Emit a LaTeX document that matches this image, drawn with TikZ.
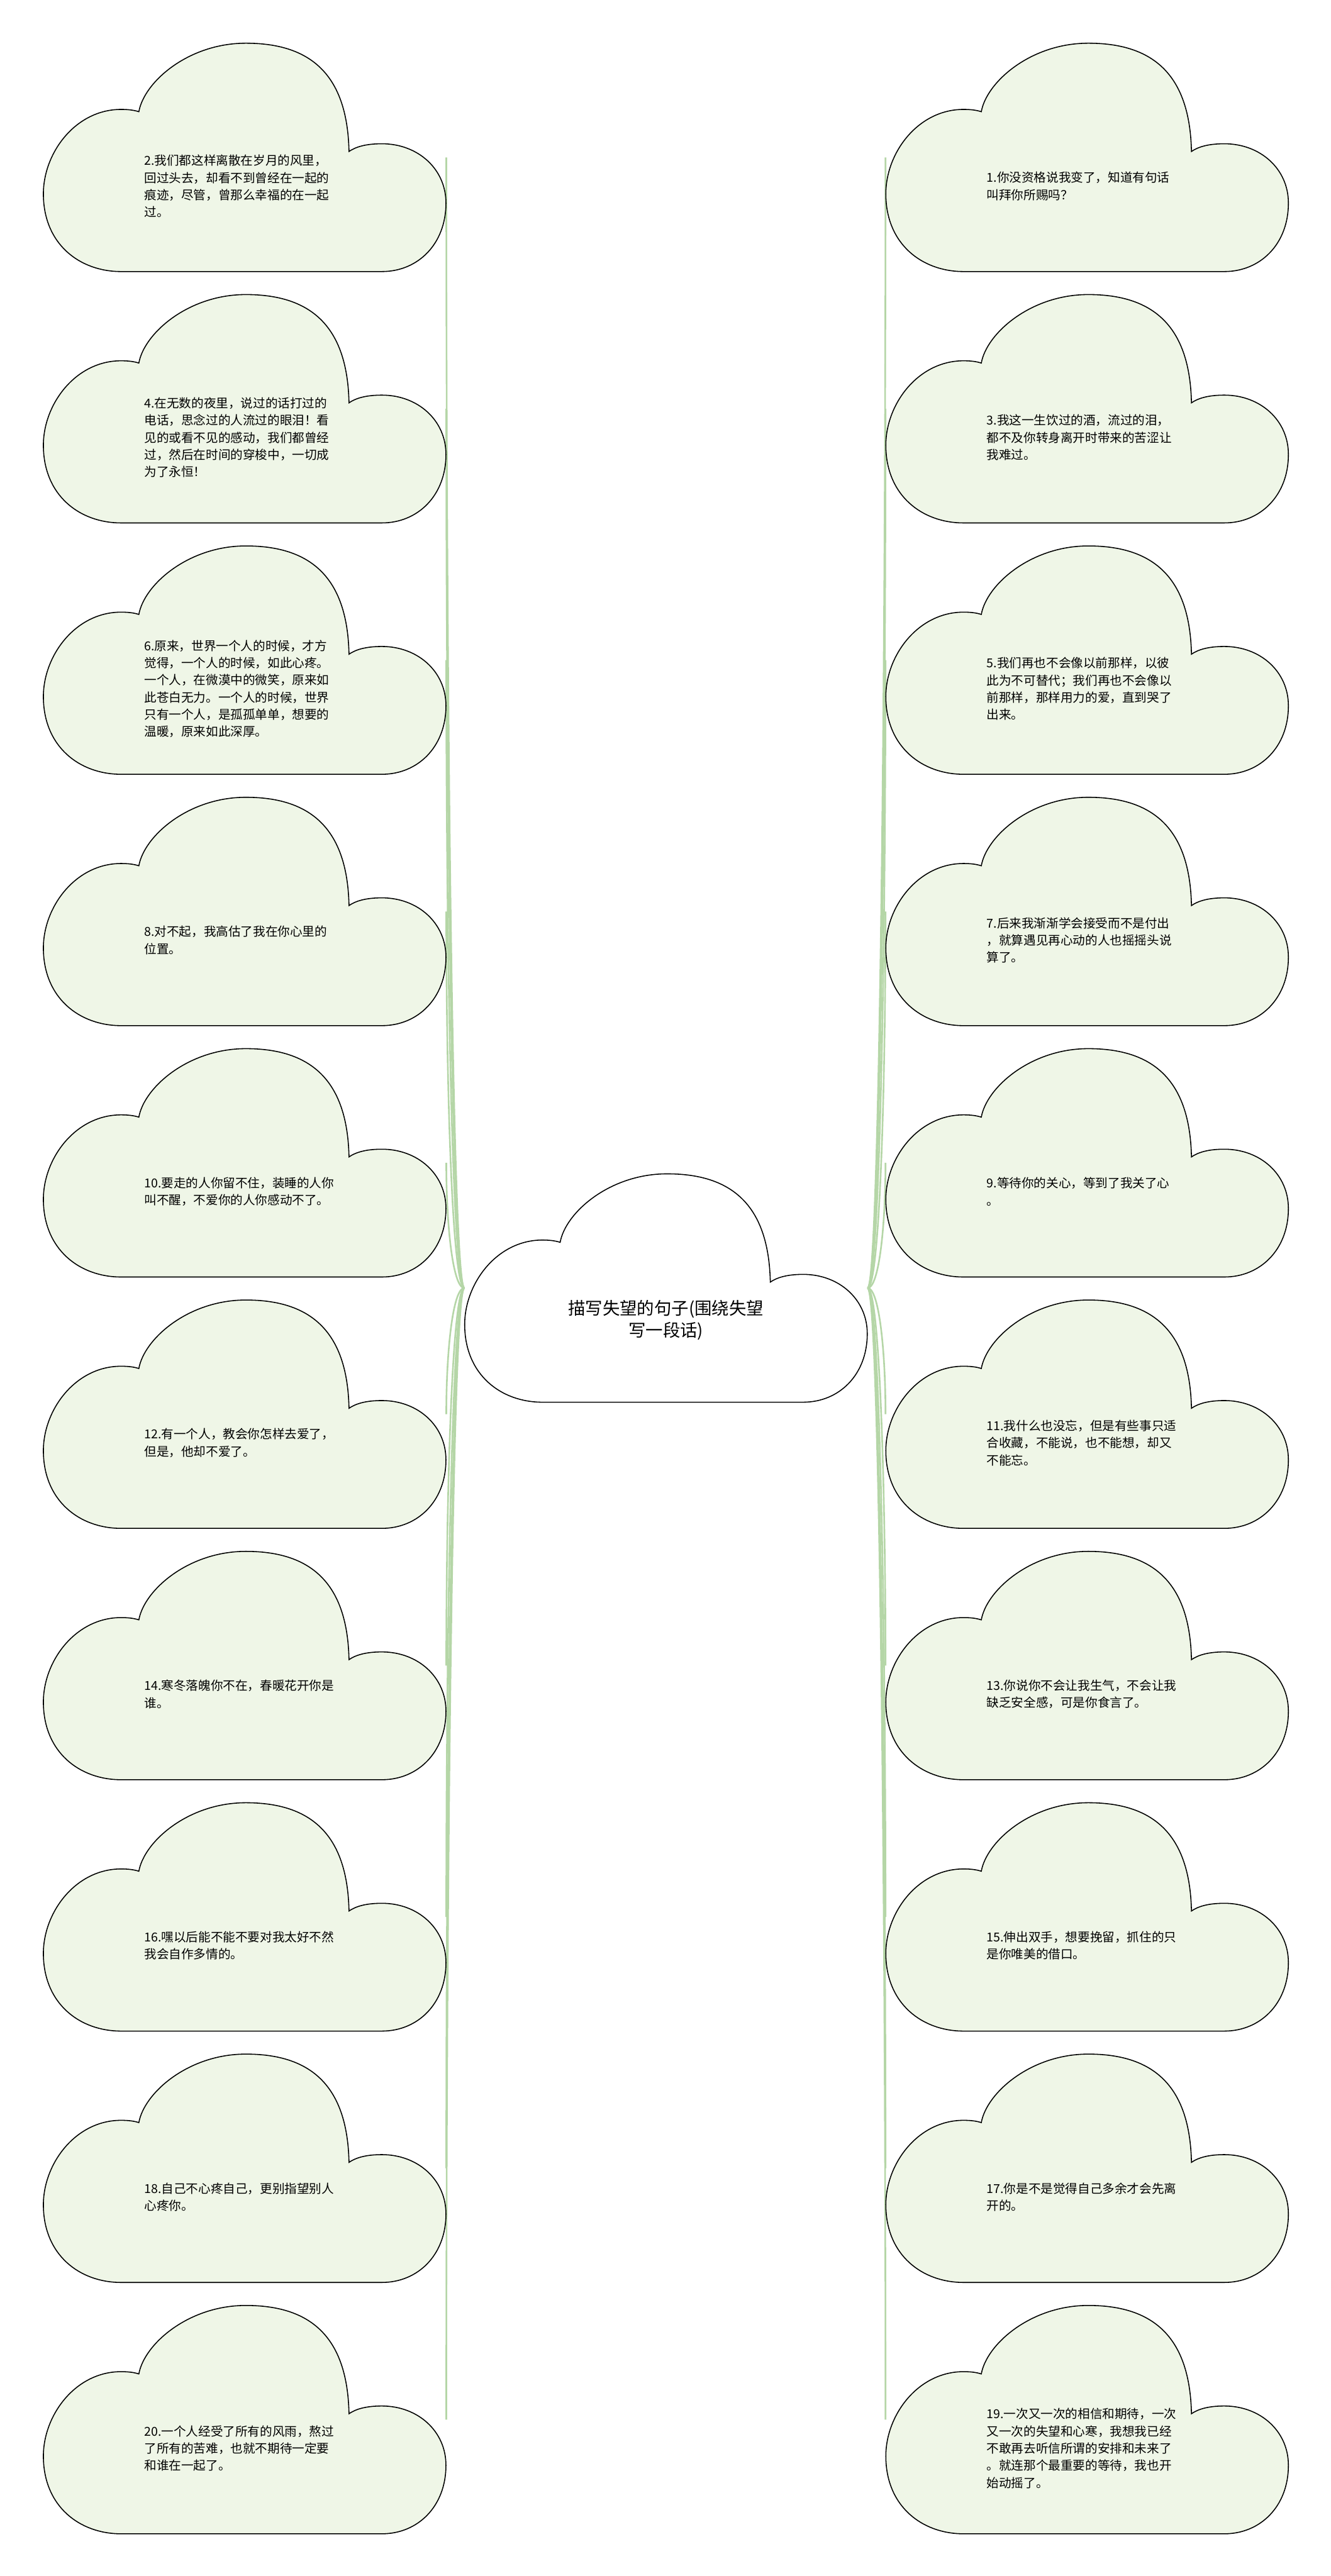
\documentclass[tikz,border=0pt]{standalone}
\usepackage{fontspec}
\setmainfont{Noto Sans CJK SC}
\usetikzlibrary{calc}

\definecolor{leafgreen}{RGB}{239,246,231}
\definecolor{linkgreen}{RGB}{181,214,167}

\pgfdeclarelayer{background}
\pgfsetlayers{background,main}

\tikzset{
  cloudline/.style={draw=black,line width=0.6pt},
  pics/cloudshape/.style={code={
    \filldraw[cloudline,fill=#1] (47.3,139) -- (206.0,139)
      .. controls (227.9,139) and (245,122.3) .. (245,97.3)
      .. controls (245,76.5) and (227.9,61.2) .. (206.0,61.2)
      .. controls (196.0,61.2) and (189.9,63.2) .. (186.0,65.9)
      .. controls (185.0,18.1) and (161.7,0) .. (123.2,0)
      .. controls (88.2,0) and (61.3,23.6) .. (58.1,41.7)
      .. controls (55.1,40.7) and (51.5,40.3) .. (47.3,40.3)
      .. controls (19.6,40.3) and (0,66.7) .. (0,91.7)
      .. controls (0,122.3) and (22.1,139) .. (47.3,139) -- cycle;
  }},
  cloudbox/.style={minimum width=245pt,minimum height=139pt,inner sep=0pt},
  leaftext/.style={anchor=west,align=left,inner sep=0pt,font=\fontsize{7.5}{10.45}\selectfont},
  roottext/.style={align=center,inner sep=0pt,font=\fontsize{10.5}{13.3}\selectfont},
  link/.style={draw=linkgreen,line width=1pt},
}

% one green cloud: name, left x, top y, text
\newcommand{\leafcloud}[4]{%
  \pic at (#2,#3) {cloudshape=leafgreen};
  \node[cloudbox] (#1) at (#2+122.5,#3+69.5) {};
  \node[leaftext] (#1txt) at (#2+61.25,#3+87) {#4};
}

\begin{document}
\begin{tikzpicture}[x=1pt,y=-1pt]
\useasboundingbox (0,0) rectangle (810,1568);

% centre
\pic at (282.8,714.5) {cloudshape=white};
\node[cloudbox] (root) at (405.3,784) {};
\node[roottext] (roottxt) at (405.3,803.5) {描写失望的句子(围绕失望\\写一段话)};

% left column
\leafcloud{n2}{26.4}{26.3}{2.我们都这样离散在岁月的风里，\\回过头去，却看不到曾经在一起的\\痕迹，尽管，曾那么幸福的在一起\\过。}
\leafcloud{n4}{26.4}{179.3}{4.在无数的夜里，说过的话打过的\\电话，思念过的人流过的眼泪！看\\见的或看不见的感动，我们都曾经\\过，然后在时间的穿梭中，一切成\\为了永恒！}
\leafcloud{n6}{26.4}{332.3}{6.原来，世界一个人的时候，才方\\觉得，一个人的时候，如此心疼。\\一个人，在微漠中的微笑，原来如\\此苍白无力。一个人的时候，世界\\只有一个人，是孤孤单单，想要的\\温暖，原来如此深厚。}
\leafcloud{n8}{26.4}{485.3}{8.对不起，我高估了我在你心里的\\位置。}
\leafcloud{n10}{26.4}{638.3}{10.要走的人你留不住，装睡的人你\\叫不醒，不爱你的人你感动不了。}
\leafcloud{n12}{26.4}{791.3}{12.有一个人，教会你怎样去爱了，\\但是，他却不爱了。}
\leafcloud{n14}{26.4}{944.3}{14.寒冬落魄你不在，春暖花开你是\\谁。}
\leafcloud{n16}{26.4}{1097.3}{16.嘿以后能不能不要对我太好不然\\我会自作多情的。}
\leafcloud{n18}{26.4}{1250.3}{18.自己不心疼自己，更别指望别人\\心疼你。}
\leafcloud{n20}{26.4}{1403.3}{20.一个人经受了所有的风雨，熬过\\了所有的苦难，也就不期待一定要\\和谁在一起了。}

% right column
\leafcloud{n1}{539.1}{26.3}{1.你没资格说我变了，知道有句话\\叫拜你所赐吗？}
\leafcloud{n3}{539.1}{179.3}{3.我这一生饮过的酒，流过的泪，\\都不及你转身离开时带来的苦涩让\\我难过。}
\leafcloud{n5}{539.1}{332.3}{5.我们再也不会像以前那样，以彼\\此为不可替代；我们再也不会像以\\前那样，那样用力的爱，直到哭了\\出来。}
\leafcloud{n7}{539.1}{485.3}{7.后来我渐渐学会接受而不是付出\\，就算遇见再心动的人也摇摇头说\\算了。}
\leafcloud{n9}{539.1}{638.3}{9.等待你的关心，等到了我关了心\\。}
\leafcloud{n11}{539.1}{791.3}{11.我什么也没忘，但是有些事只适\\合收藏，不能说，也不能想，却又\\不能忘。}
\leafcloud{n13}{539.1}{944.3}{13.你说你不会让我生气，不会让我\\缺乏安全感，可是你食言了。}
\leafcloud{n15}{539.1}{1097.3}{15.伸出双手，想要挽留，抓住的只\\是你唯美的借口。}
\leafcloud{n17}{539.1}{1250.3}{17.你是不是觉得自己多余才会先离\\开的。}
\leafcloud{n19}{539.1}{1403.3}{19.一次又一次的相信和期待，一次\\又一次的失望和心寒，我想我已经\\不敢再去听信所谓的安排和未来了\\。就连那个最重要的等待，我也开\\始动摇了。}

% links
\begin{pgfonlayer}{background}
\draw[link] (root.west) .. controls +(-7,0) and ($(n2.east)!0.5!(n2.east|-root.west)$) .. (n2.east);
\draw[link] (root.west) .. controls +(-7,0) and ($(n4.east)!0.5!(n4.east|-root.west)$) .. (n4.east);
\draw[link] (root.west) .. controls +(-7,0) and ($(n6.east)!0.5!(n6.east|-root.west)$) .. (n6.east);
\draw[link] (root.west) .. controls +(-7,0) and ($(n8.east)!0.5!(n8.east|-root.west)$) .. (n8.east);
\draw[link] (root.west) .. controls +(-7,0) and ($(n10.east)!0.5!(n10.east|-root.west)$) .. (n10.east);
\draw[link] (root.west) .. controls +(-7,0) and ($(n12.east)!0.5!(n12.east|-root.west)$) .. (n12.east);
\draw[link] (root.west) .. controls +(-7,0) and ($(n14.east)!0.5!(n14.east|-root.west)$) .. (n14.east);
\draw[link] (root.west) .. controls +(-7,0) and ($(n16.east)!0.5!(n16.east|-root.west)$) .. (n16.east);
\draw[link] (root.west) .. controls +(-7,0) and ($(n18.east)!0.5!(n18.east|-root.west)$) .. (n18.east);
\draw[link] (root.west) .. controls +(-7,0) and ($(n20.east)!0.5!(n20.east|-root.west)$) .. (n20.east);
\draw[link] (root.east) .. controls +(7,0) and ($(n1.west)!0.5!(n1.west|-root.east)$) .. (n1.west);
\draw[link] (root.east) .. controls +(7,0) and ($(n3.west)!0.5!(n3.west|-root.east)$) .. (n3.west);
\draw[link] (root.east) .. controls +(7,0) and ($(n5.west)!0.5!(n5.west|-root.east)$) .. (n5.west);
\draw[link] (root.east) .. controls +(7,0) and ($(n7.west)!0.5!(n7.west|-root.east)$) .. (n7.west);
\draw[link] (root.east) .. controls +(7,0) and ($(n9.west)!0.5!(n9.west|-root.east)$) .. (n9.west);
\draw[link] (root.east) .. controls +(7,0) and ($(n11.west)!0.5!(n11.west|-root.east)$) .. (n11.west);
\draw[link] (root.east) .. controls +(7,0) and ($(n13.west)!0.5!(n13.west|-root.east)$) .. (n13.west);
\draw[link] (root.east) .. controls +(7,0) and ($(n15.west)!0.5!(n15.west|-root.east)$) .. (n15.west);
\draw[link] (root.east) .. controls +(7,0) and ($(n17.west)!0.5!(n17.west|-root.east)$) .. (n17.west);
\draw[link] (root.east) .. controls +(7,0) and ($(n19.west)!0.5!(n19.west|-root.east)$) .. (n19.west);
\end{pgfonlayer}
\end{tikzpicture}
\end{document}
